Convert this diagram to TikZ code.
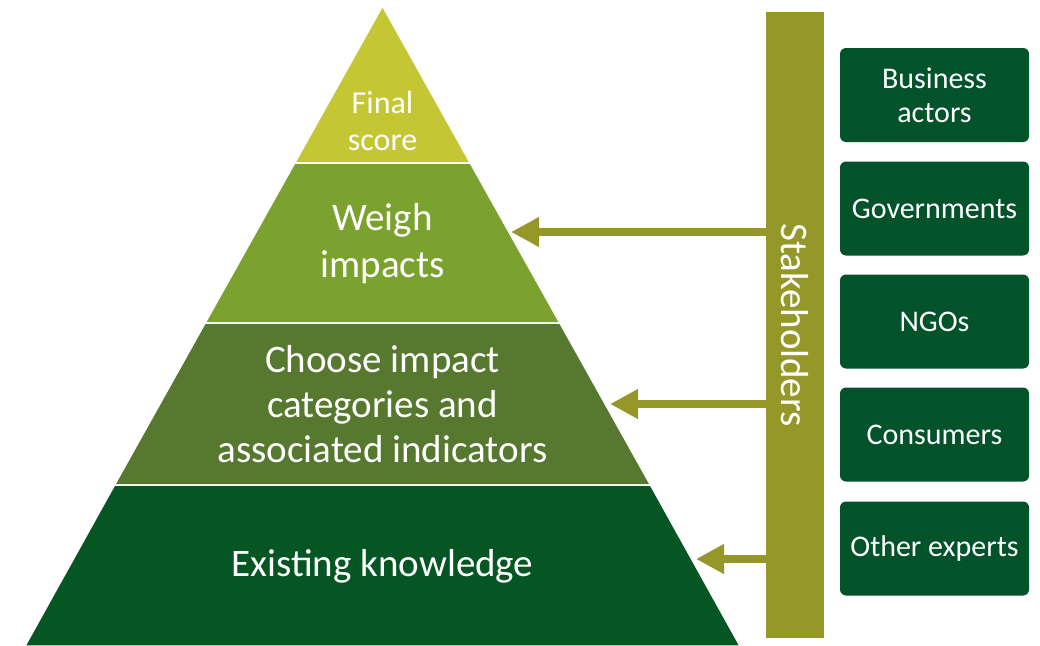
\documentclass[tikz,border=0pt]{standalone}
\usepackage{fontspec}
\setmainfont{Carlito}
\usetikzlibrary{arrows.meta}
\definecolor{cfinal}{HTML}{C4C733}
\definecolor{cweigh}{HTML}{7BA22E}
\definecolor{cchoose}{HTML}{56792F}
\definecolor{cexist}{HTML}{065624}
\definecolor{cbar}{HTML}{959829}
\definecolor{cbox}{HTML}{03532A}
\tikzset{
  band/.style={draw=white, line width=1.5pt},
  bandtext/.style={text=white, align=center, font=\fontsize{39}{45}\selectfont, inner sep=0pt},
  sbox/.style={fill=cbox, rounded corners=6pt, minimum width=189pt, minimum height=94pt,
    text=white, align=center, font=\fontsize{30}{34}\selectfont, inner sep=0pt},
  feed/.style={draw=cbar, line width=8pt, -{Triangle[length=28pt,width=28pt]}, shorten >=0pt},
}
\begin{document}
\begin{tikzpicture}[x=1pt,y=-1pt]
\useasboundingbox (0,0) rectangle (1040,645);
% pyramid bands
\fill[cfinal, band] (382.5,6) -- (470.3,163) -- (294.7,163) -- cycle;
\fill[cweigh, band] (294.7,163) -- (470.3,163) -- (559.9,323) -- (205.1,323) -- cycle;
\fill[cchoose, band] (205.1,323) -- (559.9,323) -- (650.5,485) -- (114.5,485) -- cycle;
\fill[cexist, band] (114.5,485) -- (650.5,485) -- (740,646) -- (25,646) -- cycle;
\node[bandtext, font=\fontsize{32}{37}\selectfont] (final) at (382.5,121) {Final\\score};
\node[bandtext, font=\fontsize{39}{47}\selectfont] (weigh) at (382.5,244) {Weigh\\impacts};
\node[bandtext] (choose) at (382.5,404) {Choose impact\\categories and\\associated indicators};
\node[bandtext] (exist) at (382.5,566) {Existing knowledge};
% stakeholder bar
\node[fill=cbar, minimum width=58pt, minimum height=626pt, inner sep=0pt] (bar) at (795,325) {};
\node[rotate=-90, text=white, font=\fontsize{39}{45}\selectfont, inner sep=0pt] (stk) at (bar.center) {Stakeholders};
% arrow tips
\coordinate (t1) at (511,232);
\coordinate (t2) at (610,404);
\coordinate (t3) at (696,559);
\draw[feed] (bar.west |- t1) -- (t1);
\draw[feed] (bar.west |- t2) -- (t2);
\draw[feed] (bar.west |- t3) -- (t3);
% stakeholder boxes
\node[sbox] (b1) at (934.5,95) {Business\\actors};
\node[sbox] (b2) at (934.5,208.5) {Governments};
\node[sbox] (b3) at (934.5,321.5) {NGOs};
\node[sbox] (b4) at (934.5,434.5) {Consumers};
\node[sbox] (b5) at (934.5,548.5) {Other experts};
\end{tikzpicture}
\end{document}
